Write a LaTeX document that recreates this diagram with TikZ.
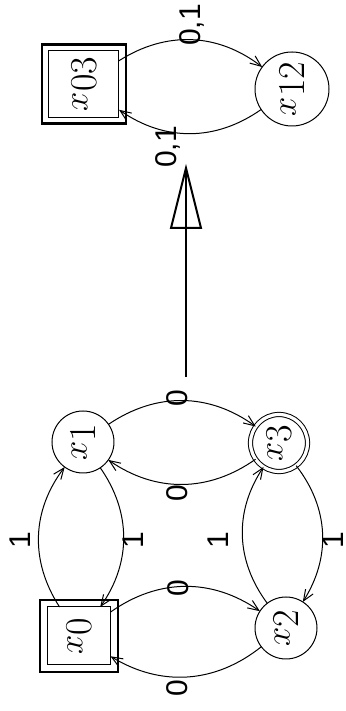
\documentclass[tikz,border=0pt]{standalone}
\usepackage{fontspec}
\newfontfamily\lblfont{Liberation Sans}
\usetikzlibrary{arrows.meta}
\newcommand\stname[1]{\fontsize{19pt}{22pt}\selectfont$x$\raisebox{-4.5pt}{#1}}
\begin{document}
\begin{tikzpicture}[x=0.5pt,y=0.5pt,
  every node/.style={inner sep=0pt, outer sep=0pt},
  circstate/.style={circle, draw, line width=0.5pt, minimum size=31pt},
  dcircstate/.style={circle, draw, line width=0.5pt, double, double distance=1.6pt, minimum size=28.5pt},
  inbox/.style={rectangle, draw, line width=0.5pt},
  outbox/.style={rectangle, draw, line width=1.1pt},
  trans/.style={line width=0.5pt, -{Straight Barb[length=5.5pt,width=4.5pt,line width=0.5pt]}, bend left=35},
  lbl/.style={font=\lblfont\fontsize{15pt}{18pt}\selectfont},
  bigline/.style={line width=1pt}]
\begin{scope}[rotate=90, transform shape]
\path[use as bounding box] (0,0) rectangle (711,346);
% left automaton
\node[outbox, minimum width=36pt, minimum height=39pt] (x0o) at (75,267) {};
\node[inbox, minimum width=29pt, minimum height=31.5pt] (x0) at (75,267) {\stname{0}};
\node[circstate] (x1) at (269,263) {\stname{1}};
\node[dcircstate] (x3) at (268,67) {\stname{3}};
\node[circstate] (x2) at (83,60) {\stname{2}};
\draw[trans] (x0) to (x1);
\draw[trans] (x1) to (x0);
\draw[trans] (x0) to (x2);
\draw[trans] (x2) to (x0);
\draw[trans] (x1) to (x3);
\draw[trans] (x3) to (x1);
\draw[trans] (x2) to (x3);
\draw[trans] (x3) to (x2);
\node[lbl] (l01) at (171,326) {1};
\node[lbl] (l10) at (171,213) {1};
\node[lbl] (l02) at (123,168) {0};
\node[lbl] (l20) at (23,169) {0};
\node[lbl] (l13) at (313,169) {0};
\node[lbl] (l31) at (218,169) {0};
\node[lbl] (l23) at (171,128) {1};
\node[lbl] (l32) at (171,12.5) {1};
% big arrow
\coordinate (as) at (334,160);
\coordinate (ae) at (543,160);
\draw[bigline] (as) -- (ae);
\draw[bigline] (ae) -- ++(-60,15) -- ++(0,-30) -- cycle;
% right automaton
\node[outbox, minimum width=39.5pt, minimum height=42pt] (x03o) at (627,262) {};
\node[inbox, minimum width=33.5pt, minimum height=35pt] (x03) at (627,262) {\stname{03}};
\node[circstate, minimum size=37pt] (x12) at (622,54) {\stname{12}};
\draw[trans] (x03) to (x12);
\draw[trans] (x12) to (x03);
\node[lbl] (la) at (686,154) {0,1};
\node[lbl] (lb) at (564,178) {0,1};
\end{scope}
\end{tikzpicture}
\end{document}
